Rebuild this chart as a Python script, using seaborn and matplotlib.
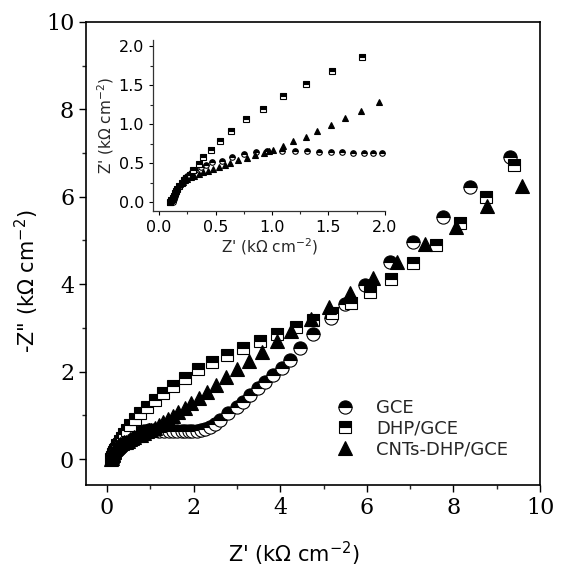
"""
Nyquist plots of GCE, DHP/GCE and CNTs-DHP/GCE with a zoomed inset
"""

import matplotlib
matplotlib.use('Agg')
import matplotlib.pyplot as plt
import seaborn as sns
from matplotlib.ticker import MultipleLocator

# Data (kOhm cm^-2)
gce_x = [0.12, 0.13, 0.14, 0.15, 0.16, 0.18, 0.20, 0.22, 0.25, 0.28,
         0.32, 0.37, 0.42, 0.47, 0.56, 0.65, 0.75, 0.86, 0.96, 1.09,
         1.20, 1.31, 1.42, 1.52, 1.62, 1.72, 1.81, 1.89, 1.97, 2.07,
         2.16, 2.26, 2.38, 2.50, 2.61, 2.80, 3.00, 3.14, 3.30, 3.49,
         3.65, 3.83, 4.04, 4.23, 4.46, 4.76, 5.17, 5.50, 5.96, 6.54,
         7.07, 7.76, 8.38, 9.30]
gce_y = [0.00, 0.04, 0.08, 0.12, 0.16, 0.21, 0.25, 0.29, 0.33, 0.37,
         0.41, 0.45, 0.48, 0.51, 0.53, 0.58, 0.61, 0.64, 0.66, 0.66,
         0.65, 0.65, 0.64, 0.64, 0.64, 0.63, 0.63, 0.63, 0.63, 0.64,
         0.66, 0.69, 0.73, 0.80, 0.89, 1.05, 1.19, 1.30, 1.46, 1.62,
         1.76, 1.92, 2.08, 2.27, 2.54, 2.86, 3.22, 3.55, 3.98, 4.50,
         4.97, 5.54, 6.22, 6.90]

dhp_x = [0.10, 0.11, 0.12, 0.13, 0.14, 0.15, 0.16, 0.18, 0.20, 0.22,
         0.24, 0.27, 0.30, 0.35, 0.39, 0.46, 0.54, 0.64, 0.77, 0.92,
         1.10, 1.30, 1.53, 1.80, 2.10, 2.42, 2.77, 3.14, 3.53, 3.93,
         4.36, 4.76, 5.20, 5.63, 6.07, 6.56, 7.07, 7.60, 8.15, 8.75,
         9.40]
dhp_y = [0.00, 0.02, 0.05, 0.08, 0.11, 0.14, 0.17, 0.21, 0.24, 0.28,
         0.31, 0.35, 0.41, 0.49, 0.58, 0.67, 0.78, 0.91, 1.06, 1.20,
         1.36, 1.52, 1.68, 1.86, 2.05, 2.22, 2.38, 2.54, 2.70, 2.86,
         3.02, 3.18, 3.34, 3.57, 3.82, 4.12, 4.49, 4.90, 5.40, 6.00,
         6.73]

cnt_x = [0.10, 0.11, 0.12, 0.13, 0.14, 0.15, 0.16, 0.17, 0.19, 0.21,
         0.23, 0.25, 0.28, 0.31, 0.35, 0.39, 0.43, 0.48, 0.53, 0.58,
         0.63, 0.70, 0.78, 0.85, 0.93, 0.97, 1.01, 1.10, 1.19, 1.30,
         1.40, 1.52, 1.65, 1.79, 1.95, 2.12, 2.31, 2.52, 2.75, 3.00,
         3.28, 3.58, 3.93, 4.25, 4.71, 5.13, 5.61, 6.14, 6.70, 7.34,
         8.06, 8.78, 9.58]
cnt_y = [0.00, 0.03, 0.06, 0.09, 0.12, 0.15, 0.18, 0.20, 0.23, 0.26,
         0.28, 0.30, 0.32, 0.34, 0.36, 0.38, 0.40, 0.42, 0.45, 0.48,
         0.50, 0.54, 0.56, 0.60, 0.63, 0.66, 0.67, 0.72, 0.78, 0.84,
         0.91, 0.99, 1.08, 1.17, 1.28, 1.40, 1.53, 1.69, 1.88, 2.06,
         2.24, 2.45, 2.70, 2.93, 3.20, 3.48, 3.80, 4.14, 4.51, 4.92,
         5.31, 5.79, 6.25]

labels = ['GCE', 'DHP/GCE', 'CNTs-DHP/GCE']

sns.set_style('ticks')
plt.rcParams['font.family'] = ['DejaVu Sans']
plt.rcParams['mathtext.default'] = 'regular'


def draw_series(axis, x, y, marker, size, fill, label=None):
    sns.lineplot(x=x, y=y, ax=axis, sort=False, estimator=None,
                 linestyle='', marker=marker, markersize=size,
                 fillstyle=fill, color='black', markerfacecolor='black',
                 markerfacecoloralt='white', markeredgecolor='black',
                 markeredgewidth=0.8, label=label)


def style_axis(axis, labelsize, major_len, minor_len, width, family):
    axis.tick_params(which='major', direction='out', length=major_len,
                     width=width, labelsize=labelsize, colors='black',
                     top=False, right=False)
    axis.tick_params(which='minor', direction='out', length=minor_len,
                     width=width, top=False, right=False)
    for lab in axis.get_xticklabels() + axis.get_yticklabels():
        lab.set_fontfamily(family)


fig = plt.figure(figsize=(5.63, 5.71), dpi=100)

# Main plot
ax = fig.add_axes([0.1528, 0.1506, 0.8064, 0.8109])
draw_series(ax, gce_x, gce_y, 'o', 9.5, 'top', labels[0])
draw_series(ax, dhp_x, dhp_y, 's', 9, 'top', labels[1])
draw_series(ax, cnt_x, cnt_y, '^', 10.5, 'full', labels[2])

ax.set_xlim(-0.485, 10.0)
ax.set_ylim(-0.595, 10.0)
ax.xaxis.set_major_locator(MultipleLocator(2))
ax.xaxis.set_minor_locator(MultipleLocator(1))
ax.yaxis.set_major_locator(MultipleLocator(2))
ax.yaxis.set_minor_locator(MultipleLocator(1))
for side in ['left', 'right', 'top', 'bottom']:
    ax.spines[side].set_visible(True)
    ax.spines[side].set_color('black')
    ax.spines[side].set_linewidth(1.2)
style_axis(ax, 16, 5, 3, 1.0, 'DejaVu Serif')

ax.set_xlabel("Z' (k\u03a9 cm$^{-2}$)", fontsize=15, color='black')
ax.set_ylabel('-Z" (k\u03a9 cm$^{-2}$)', fontsize=15, color='black')
ax.xaxis.set_label_coords(0.458, -0.118)
ax.yaxis.set_label_coords(-0.10, 0.44)

ax.legend(loc='upper left', bbox_to_anchor=(0.551, 0.186), frameon=False,
          handlelength=1.0, handletextpad=1.2, labelspacing=0.15,
          borderpad=0, borderaxespad=0, numpoints=1, fontsize=13)

# Inset
axin = fig.add_axes([0.2718, 0.6305, 0.412, 0.2995])
axin.set_facecolor('white')
draw_series(axin, gce_x, gce_y, 'o', 4, 'top')
draw_series(axin, dhp_x, dhp_y, 's', 4, 'top')
draw_series(axin, cnt_x, cnt_y, '^', 4.5, 'full')
if axin.get_legend() is not None:
    axin.get_legend().remove()

axin.set_xlim(-0.053, 2.0)
axin.set_ylim(-0.115, 2.08)
axin.xaxis.set_major_locator(MultipleLocator(0.5))
axin.xaxis.set_minor_locator(MultipleLocator(0.25))
axin.yaxis.set_major_locator(MultipleLocator(0.5))
axin.yaxis.set_minor_locator(MultipleLocator(0.25))
axin.spines['top'].set_visible(False)
axin.spines['right'].set_visible(False)
for side in ['left', 'bottom']:
    axin.spines[side].set_color('#333333')
    axin.spines[side].set_linewidth(0.9)
style_axis(axin, 11.5, 3, 2, 0.8, 'DejaVu Sans')
axin.set_xlabel("Z' (k\u03a9 cm$^{-2}$)", fontsize=11, labelpad=1)
axin.set_ylabel("Z' (k\u03a9 cm$^{-2}$)", fontsize=11, labelpad=2)

fig.savefig('out.png', dpi=100)
plt.close(fig)
